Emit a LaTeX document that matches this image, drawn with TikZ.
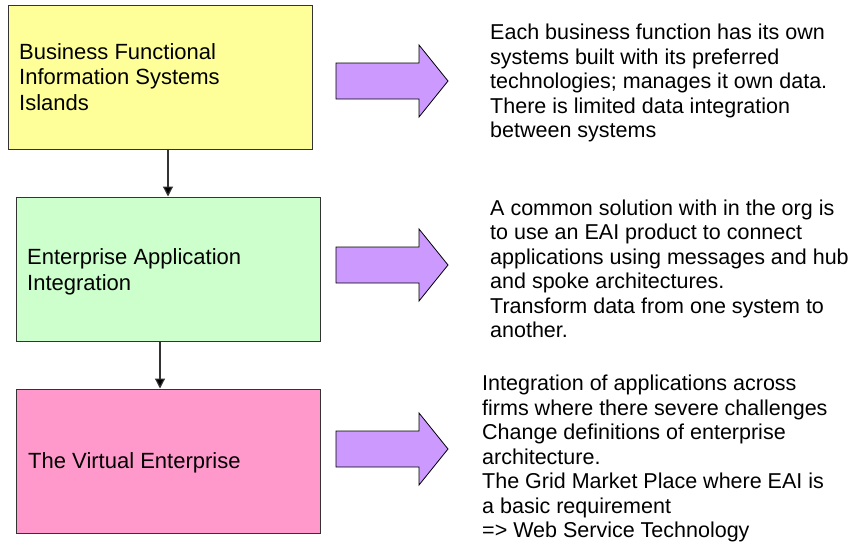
\documentclass[tikz,border=0pt]{standalone}
\usepackage{fontspec}
\setmainfont{Liberation Sans}
\usetikzlibrary{arrows.meta}

\definecolor{islandfill}{HTML}{FFFF99}
\definecolor{eaifill}{HTML}{CCFFCC}
\definecolor{virtualfill}{HTML}{FF99CC}
\definecolor{blockarrow}{HTML}{CC99FF}
\definecolor{edgegray}{HTML}{333333}

\tikzset{
  stage/.style={draw=edgegray, line width=1pt, minimum width=304pt, minimum height=144pt,
    inner sep=0pt},
  stagetext/.style={anchor=base west, inner sep=0pt, align=left,
    font=\fontsize{22}{25.5}\selectfont},
  note/.style={anchor=base west, inner sep=0pt, align=left,
    font=\fontsize{21.5}{24.5}\selectfont},
  flow/.style={draw=edgegray, line width=1.2pt,
    -{Triangle[width=10pt,length=10pt,fill=black]}},
  bigarrow/.style={draw=black, line width=0.8pt, fill=blockarrow}
}

% right-pointing block arrow: shaft 36 high, head 72 high, total length 112
\newcommand{\blockarrow}[2]{%
  \fill[bigarrow] (#1,#2-18) -- ++(83,0) -- ++(0,-18) -- ++(29,36)
    -- ++(-29,36) -- ++(0,-18) -- ++(-83,0) -- cycle;}

\begin{document}
\begin{tikzpicture}[x=1pt,y=-1pt]
\useasboundingbox (0,0) rectangle (851,549);

% stages
\node[stage, fill=islandfill] (b1) at (160,77) {};
\node[stage, fill=eaifill] (b2) at (168,269) {};
\node[stage, fill=virtualfill] (b3) at (168,461) {};

% stage titles (anchored at the baseline of their last line)
\node[stagetext] (l1) at (19,110) {Business Functional\\Information Systems\\Islands};
\node[stagetext] (l2) at (27,290) {Enterprise Application\\Integration};
\node[stagetext] (l3) at (28,468) {The Virtual Enterprise};

% connectors between stages
\draw[flow] (b1.south -| b2.north) -- (b2.north);
\draw[flow] (b2.south -| b1.south) -- (b3.north -| b1.south);

% block arrows
\blockarrow{336}{81}
\blockarrow{336}{265}
\blockarrow{336}{449}

% descriptions (anchored at the baseline of their last line)
\node[note] (d1) at (490,137.5) {Each business function has its own\\systems built with its preferred\\technologies; manages it own data.\\There is limited data integration\\between systems};
\node[note] (d2) at (490,337.5) {A common solution with in the org is\\to use an EAI product to connect\\applications using messages and hub\\and spoke architectures.\\Transform data from one system to\\another.};
\node[note] (d3) at (482,537.5) {Integration of applications across\\firms where there severe challenges\\Change definitions of enterprise\\architecture.\\The Grid Market Place where EAI is\\a basic requirement\\=> Web Service Technology};
\end{tikzpicture}
\end{document}
